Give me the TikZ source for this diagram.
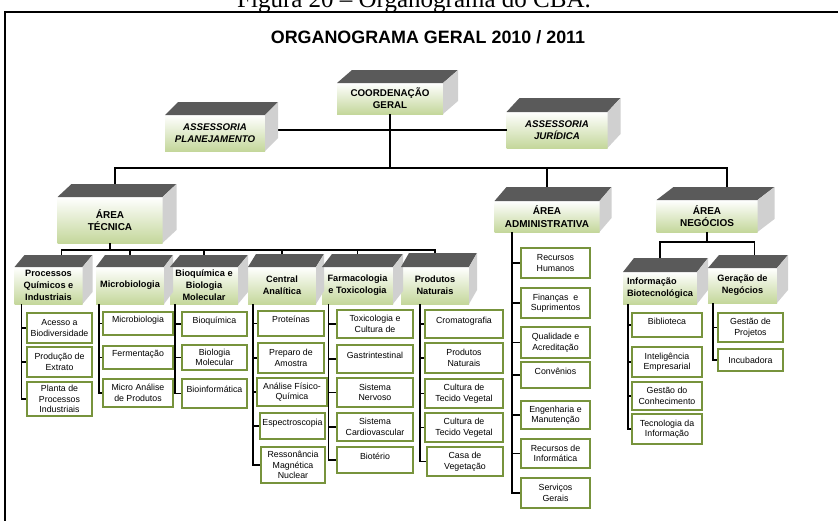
\documentclass[tikz,border=0pt]{standalone}
\usepackage{fontspec}
\setmainfont{Liberation Sans}
\newfontfamily\capfont{Liberation Serif}
\usepackage{tikz}
\usepackage{xcolor}
\definecolor{boxgreen}{RGB}{196,215,155}
\definecolor{leafgreen}{RGB}{119,147,60}
\definecolor{topgray}{RGB}{90,90,90}
\definecolor{sidegray}{RGB}{208,208,208}

\begin{document}
\begin{tikzpicture}[x=1pt, y=-1pt,
      block/.style={top color=white, bottom color=boxgreen, align=center, inner sep=1pt, outer sep=0pt,
                    font=\bfseries\fontsize{9.8}{12}\selectfont},
      assess/.style={block, font=\bfseries\itshape\fontsize{9.7}{12}\selectfont},
      area/.style={block, font=\bfseries\fontsize{10}{12.5}\selectfont},
      dept/.style={block, minimum width=68pt, minimum height=37pt, font=\bfseries\fontsize{9.2}{12}\selectfont},
      leaf/.style={draw=leafgreen, line width=2pt, fill=white, align=center, inner sep=1pt, outer sep=1pt,
                   font=\fontsize{8.8}{10.5}\selectfont},
      oneline/.style={text depth=8pt},
      conn/.style={line width=1.3pt}]
    \clip (0,0) rectangle (838,520);
    \draw[line width=1.5pt] (5,540) -- (5,12) -- (860,12);
    \node[anchor=base, font=\capfont\fontsize{25}{28}\selectfont] (caption) at (414,7) {Figura 20 – Organograma do CBA.};
    \node[anchor=base, font=\bfseries\fontsize{17.9}{20}\selectfont] (title) at (428,43) {ORGANOGRAMA GERAL 2010 / 2011};

    % direction
    \node[block, minimum width=106pt, minimum height=31pt] (coord) at (390,98.5) {COORDENAÇÃO\\GERAL};
    \node[assess, minimum width=100pt, minimum height=36pt] (asplan) at (215,133) {ASSESSORIA\\PLANEJAMENTO};
    \node[assess, minimum width=101pt, minimum height=36pt] (asjur) at (557,130) {ASSESSORIA\\JURÍDICA};

    % areas
    \node[area, minimum width=105pt, minimum height=46pt] (tec) at (110,220) {ÁREA\\TÉCNICA};
    \node[area, minimum width=105pt, minimum height=31pt] (adm) at (547,216.5) {ÁREA\\ADMINISTRATIVA};
    \node[area, minimum width=101pt, minimum height=32pt] (neg) at (707,216) {ÁREA\\NEGÓCIOS};

    % departments
    \node[dept] (proc)    at (48.5,285.5) {Processos\\Químicos e\\Industriais};
    \node[dept] (micro)   at (130,285.5)  {Microbiologia};
    \node[dept] (bioq)    at (204,285.5)  {Bioquímica e\\Biologia\\Molecular};
    \node[dept] (central) at (282,285.5)  {Central\\Analítica};
    \node[dept, minimum width=71pt] (farm) at (357.5,285.5) {Farmacologia\\e Toxicologia};
    \node[dept] (prodnat) at (435,285.5)  {Produtos\\Naturais};
    \node[dept, align=left, minimum width=74pt, minimum height=32pt] (info) at (660,288) {Informação\\Biotecnológica};
    \node[dept, minimum width=69pt, minimum height=35pt] (ger) at (742.5,285.5) {Geração de\\Negócios};

    % units
    \node[leaf, minimum width=65pt, minimum height=30pt] (acesso)  at (59.5,328) {Acesso a\\Biodiversidade};
    \node[leaf, minimum width=65pt, minimum height=30pt] (prodext) at (59.5,362) {Produção de\\Extrato};
    \node[leaf, minimum width=65pt, minimum height=34pt] (planta)  at (59.5,399) {Planta de\\Processos\\Industriais};

    \node[leaf, oneline, minimum width=70pt, minimum height=23pt] (microb) at (138,323.5) {Microbiologia};
    \node[leaf, oneline, minimum width=70pt, minimum height=23pt] (ferm)   at (138,357.5) {Fermentação};
    \node[leaf, minimum width=70pt, minimum height=28pt] (microan) at (138,393) {Micro Análise\\de Produtos};

    \node[leaf, oneline, minimum width=65pt, minimum height=24pt] (bioqa) at (214.5,324) {Bioquímica};
    \node[leaf, minimum width=65pt, minimum height=25pt] (biomol) at (214.5,357.5) {Biologia\\Molecular};
    \node[leaf, oneline, minimum width=65pt, minimum height=29pt] (bioinf) at (214.5,393.5) {Bioinformática};

    \node[leaf, oneline, minimum width=66pt, minimum height=25pt] (prot) at (291,323.5) {Proteínas};
    \node[leaf, minimum width=66pt, minimum height=30pt] (prep)    at (291,358) {Preparo de\\Amostra};
    \node[leaf, minimum width=70pt, minimum height=28pt] (analise) at (292,392) {Análise Físico-\\Química};
    \node[leaf, oneline, minimum width=65pt, minimum height=26pt] (espec) at (292.5,426) {Espectroscopia};
    \node[leaf, minimum width=64pt, minimum height=36pt] (resson)  at (293,465) {Ressonância\\Magnética\\Nuclear};

    \node[leaf, minimum width=76pt, minimum height=28pt] (toxi)  at (375,324) {Toxicologia e\\Cultura de};
    \node[leaf, oneline, minimum width=76pt, minimum height=28pt] (gastr) at (375,359) {Gastrintestinal};
    \node[leaf, minimum width=76pt, minimum height=29pt] (sistn) at (375,392.5) {Sistema\\Nervoso};
    \node[leaf, minimum width=76pt, minimum height=28pt] (sistc) at (375,427) {Sistema\\Cardiovascular};
    \node[leaf, oneline, minimum width=76pt, minimum height=26pt] (biot) at (375,460) {Biotério};

    \node[leaf, oneline, minimum width=78pt, minimum height=28pt] (croma) at (464,324) {Cromatografia};
    \node[leaf, minimum width=78pt, minimum height=30pt] (prodn) at (464,358) {Produtos\\Naturais};
    \node[leaf, minimum width=78pt, minimum height=29pt] (cult1) at (464,393.5) {Cultura de\\Tecido Vegetal};
    \node[leaf, minimum width=78pt, minimum height=29pt] (cult2) at (464,427.5) {Cultura de\\Tecido Vegetal};
    \node[leaf, minimum width=76pt, minimum height=29pt] (casa)  at (465,461.5) {Casa de\\Vegetação};

    \node[leaf, minimum width=69pt, minimum height=30pt] (rh)     at (555.5,263) {Recursos\\Humanos};
    \node[leaf, minimum width=69pt, minimum height=30pt] (fin)    at (555.5,303) {Finanças\ \ e\\Suprimentos};
    \node[leaf, minimum width=69pt, minimum height=31pt] (qual)   at (555.5,342.5) {Qualidade e\\Acreditação};
    \node[leaf, oneline, minimum width=69pt, minimum height=26pt] (conv) at (555.5,375) {Convênios};
    \node[leaf, minimum width=69pt, minimum height=28pt] (eng)    at (555.5,415) {Engenharia e\\Manutenção};
    \node[leaf, minimum width=69pt, minimum height=29pt] (recinf) at (555.5,453.5) {Recursos de\\Informática};
    \node[leaf, minimum width=69pt, minimum height=30pt] (serv)   at (555.5,493) {Serviços\\Gerais};

    \node[leaf, oneline, minimum width=70pt, minimum height=24pt] (bibl) at (667,325) {Biblioteca};
    \node[leaf, minimum width=70pt, minimum height=30pt] (intel)  at (667,362) {Inteligência\\Empresarial};
    \node[leaf, minimum width=70pt, minimum height=28pt] (gestc)  at (667,396) {Gestão do\\Conhecimento};
    \node[leaf, minimum width=70pt, minimum height=30pt] (tecinf) at (667,429) {Tecnologia da\\Informação};

    \node[leaf, minimum width=65pt, minimum height=29pt] (gestp) at (750.5,327.5) {Gestão de\\Projetos};
    \node[leaf, minimum width=65pt, minimum height=22pt] (incub) at (750.5,360) {Incubadora};

    % connectors
    \draw[conn] (asjur.west) -- (asjur.west -| asplan.east);
    \draw[conn] (coord.south) -- ++(0,54) -| ([xshift=5pt]tec.north);
    \draw[conn] (coord.south) -- ++(0,54) -| (adm.north);
    \draw[conn] (coord.south) -- ++(0,54) -| ([xshift=20pt]neg.north);
    \draw[conn] (tec.south) -- ++(0,7) -| ([xshift=13pt]proc.north);
    \foreach \d in {micro,bioq,central,farm,prodnat}
      \draw[conn] (tec.south) -- ++(0,7) -| (\d.north);
    \draw[conn] (neg.south) -- ++(0,10) -| (info.north);
    \draw[conn] (neg.south) -- ++(0,10) -| ([xshift=12pt]ger.north);

    % spines
    \foreach \l in {acesso,prodext,planta}
      \draw[conn] ([xshift=7pt]proc.south west) |- (\l.west);
    \foreach \l in {microb,ferm,microan}
      \draw[conn] ([xshift=3pt]micro.south west) |- (\l.west);
    \foreach \l in {bioqa,biomol,bioinf}
      \draw[conn] ([xshift=5pt]bioq.south west) |- (\l.west);
    \foreach \l in {prot,prep,analise,espec,resson}
      \draw[conn] ([xshift=5pt]central.south west) |- (\l.west);
    \foreach \l in {toxi,gastr,sistn,sistc,biot}
      \draw[conn] ([xshift=6.5pt]farm.south west) |- (\l.west);
    \foreach \l in {croma,prodn,cult1,cult2,casa}
      \draw[conn] ([xshift=19pt]prodnat.south west) |- (\l.west);
    \foreach \l in {rh,fin,qual,conv,eng,recinf,serv}
      \draw[conn] ([xshift=17.5pt]adm.south west) |- (\l.west);
    \foreach \l in {bibl,intel,gestc,tecinf}
      \draw[conn] ([xshift=5pt]info.south west) |- (\l.west);
    \foreach \l in {gestp,incub}
      \draw[conn] ([xshift=5pt]ger.south west) |- (\l.west);

    % cuboid faces
    \foreach \n/\dpx/\dpy in {coord/15/13, asplan/13/13, asjur/13/14, tec/14/13, adm/12/14, neg/17/13,
                              proc/10/12, micro/9/12, bioq/10/12, central/8/13, farm/10/13, prodnat/8/14,
                              info/11/14, ger/11/13} {
      \fill[topgray] (\n.north west) -- ([shift={(\dpx,-\dpy)}]\n.north west)
                     -- ([shift={(\dpx,-\dpy)}]\n.north east) -- (\n.north east) -- cycle;
      \fill[sidegray] (\n.north east) -- ([shift={(\dpx,-\dpy)}]\n.north east)
                     -- ([shift={(\dpx,-\dpy)}]\n.south east) -- (\n.south east) -- cycle;
    }
  \end{tikzpicture}
\end{document}
